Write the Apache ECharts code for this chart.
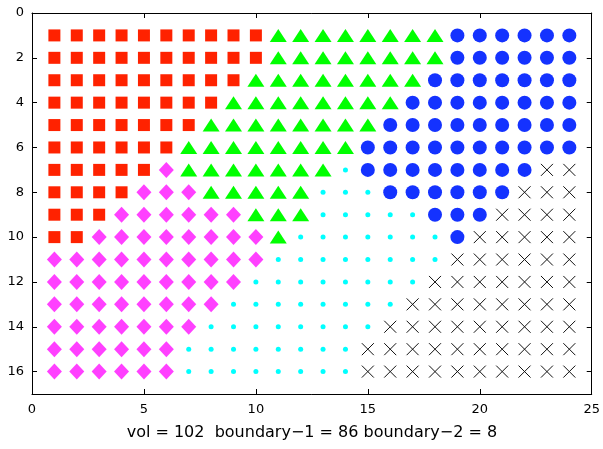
<!DOCTYPE html>
<html><head><meta charset="utf-8">
<script src="https://cdn.jsdelivr.net/npm/echarts@6/dist/echarts.min.js"></script>
<style>html,body{margin:0;padding:0;background:#fff}#c{width:603px;height:449px}</style>
</head><body><div id="c"></div>
<script>
// class of each cell, row y=1..16, column x=1..24
// S=square, T=triangle, C=circle, X=cross, o=dot, D=diamond
const rows = [
  "SSSSSSSSSSTTTTTTTTCCCCCC",
  "SSSSSSSSSSTTTTTTTTCCCCCC",
  "SSSSSSSSSTTTTTTTTCCCCCCC",
  "SSSSSSSSTTTTTTTTCCCCCCCC",
  "SSSSSSSTTTTTTTTCCCCCCCCC",
  "SSSSSSTTTTTTTTCCCCCCCCCC",
  "SSSSSDTTTTTTToCCCCCCCCXX",
  "SSSSDDDTTTTToooCCCCCCXXX",
  "SSSDDDDDDTTToooooCCCXXXX",
  "SSDDDDDDDDToooooooCXXXXX",
  "DDDDDDDDDDooooooooXXXXXX",
  "DDDDDDDDDooooooooXXXXXXX",
  "DDDDDDDDooooooooXXXXXXXX",
  "DDDDDDDooooooooXXXXXXXXX",
  "DDDDDDooooooooXXXXXXXXXX",
  "DDDDDDooooooooXXXXXXXXXX"
];
const xTicks = [0, 5, 10, 15, 20, 25];
const yTicks = [0, 2, 4, 6, 8, 10, 12, 14, 16];
const xlabel = "vol = 102  boundary\u22121 = 86 boundary\u22122 = 8";

const classes = {
  S: {symbol: 'rect', size: 12, color: '#ff2200'},
  T: {symbol: 'triangle', size: [17, 13], color: '#00ff00'},
  C: {symbol: 'circle', size: 14, color: '#1432ff'},
  X: {symbol: 'path://M0,0L10,10M10,0L0,10', size: 12, color: 'transparent', border: '#111', bw: 1},
  o: {symbol: 'circle', size: 5, color: '#00ffff'},
  D: {symbol: 'diamond', size: [15, 16], color: '#ff40ff'}
};
const pts = {};
Object.keys(classes).forEach(k => pts[k] = []);
rows.forEach((r, i) => {
  for (let j = 0; j < r.length; j++) pts[r[j]].push([j + 1, i + 1]);
});

const series = Object.keys(classes).map(k => {
  const c = classes[k];
  return {
    type: 'scatter', data: pts[k], symbol: c.symbol, symbolSize: c.size,
    itemStyle: {color: c.color, borderColor: c.border || c.color, borderWidth: c.bw || 0, opacity: 1},
    silent: true, animation: false
  };
});

const font = '"DejaVu Sans", "Liberation Sans", Arial, sans-serif';
const mkLine = () => ({show: true, onZero: false, lineStyle: {color: '#000', width: 1}});
const mkTick = (cv) => {
  const t = {show: true, inside: true, length: 5, lineStyle: {color: '#000', width: 1}};
  if (cv) t.customValues = cv;
  return t;
};
const chart = echarts.init(document.getElementById('c'), null, {renderer: 'canvas'});
chart.setOption({
  animation: false,
  grid: {left: 32, right: 11, top: 13, bottom: 55, containLabel: false},
  xAxis: [
    {type: 'value', min: 0, max: 25, position: 'bottom',
     axisLine: mkLine(), axisTick: mkTick(xTicks), splitLine: {show: false},
     axisLabel: {customValues: xTicks, fontFamily: font, fontSize: 13, color: '#000', margin: 9},
     name: xlabel, nameLocation: 'middle', nameGap: 31,
     nameTextStyle: {fontFamily: font, fontSize: 16, color: '#000'}},
    {type: 'value', min: 0, max: 25, position: 'top',
     axisLine: mkLine(), axisTick: mkTick(xTicks), splitLine: {show: false}, axisLabel: {show: false}}
  ],
  yAxis: [
    {type: 'value', min: 0, max: 17, inverse: true, position: 'left',
     axisLine: mkLine(), splitLine: {show: false},
     axisTick: mkTick(yTicks),
     axisLabel: {customValues: yTicks, fontFamily: font, fontSize: 13, color: '#000', margin: 8}},
    {type: 'value', min: 0, max: 17, inverse: true, position: 'right',
     axisLine: mkLine(), splitLine: {show: false},
     axisTick: mkTick(yTicks),
     axisLabel: {show: false}}
  ],
  series
});
</script></body></html>
